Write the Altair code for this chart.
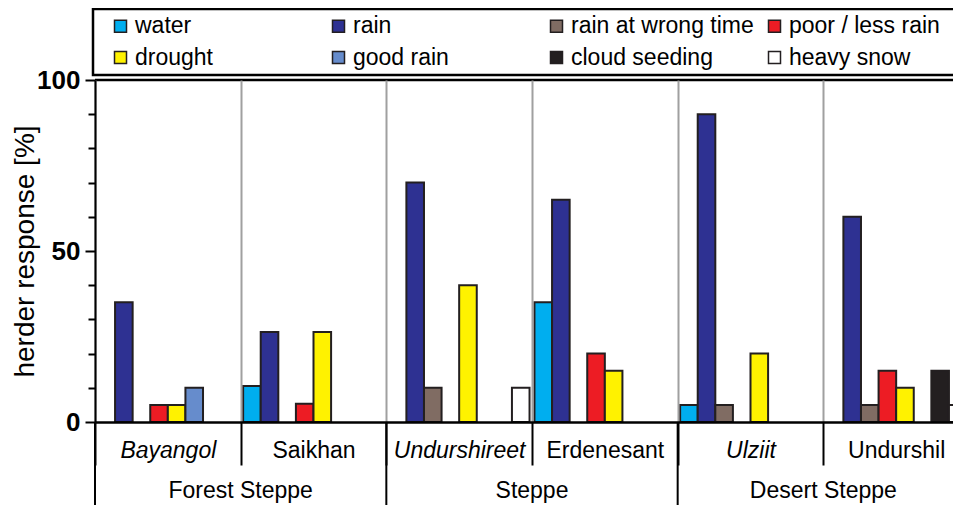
import altair as alt
import pandas as pd

# ---------------- data ----------------
sites = ["Bayangol", "Saikhan", "Undurshireet", "Erdenesant", "Ulziit", "Undurshil"]
italic_sites = ["Bayangol", "Undurshireet", "Ulziit"]
regions = ["Forest Steppe", "Steppe", "Desert Steppe"]
region_first_site = ["Bayangol", "Undurshireet", "Ulziit"]
region_mid_site = ["Saikhan", "Erdenesant", "Undurshil"]

categories = ["water", "rain", "rain at wrong time", "poor / less rain",
              "drought", "good rain", "cloud seeding", "heavy snow"]
colors = ["#00AEEF", "#2E3192", "#806C63", "#ED1C24",
          "#FFF200", "#668CCC", "#231F20", "#FFFFFF"]

# values per category, in site order (None = no bar)
water      = [None, 10.5, None, 35, 5, None]
rain       = [35, 26.3, 70, 65, 90, 60]
wrong_time = [None, None, 10, None, 5, 5]
poor       = [5, 5.3, None, 20, None, 15]
drought    = [5, 26.3, 40, 15, 20, 10]
good_rain  = [10, None, None, None, None, None]
cloud      = [None, None, None, None, None, 15]
snow       = [None, None, 10, None, None, 5]

series = [water, rain, wrong_time, poor, drought, good_rain, cloud, snow]

rows = []
for cat, vals in zip(categories, series):
    for s, v in zip(sites, vals):
        if v is not None:
            rows.append({"site": s, "category": cat, "value": v})
df = pd.DataFrame(rows)

df_region_start = pd.DataFrame({"site": region_first_site})
df_region_mid = pd.DataFrame({"site": region_mid_site, "region": regions})

# legend is filled column by column: interleave the two legend rows
legend_order = [c for pair in zip(categories[:4], categories[4:]) for c in pair]
legend_colors = [colors[categories.index(c)] for c in legend_order]

# ---------------- layout ----------------
W = 858          # visible plot width (reference is cropped on the right)
FULL_W = 874     # width the six site groups would need
H = 342
FONT = "Liberation Sans"

xscale = alt.Scale(domain=sites, range=[0, FULL_W], paddingInner=0, paddingOuter=0)
italic_test = "indexof(['Bayangol','Undurshireet','Ulziit'], datum.value) >= 0"

x_axis = alt.Axis(
    title=None, labelAngle=0, labelFont=FONT, labelFontSize=23, labelColor="black",
    labelPadding=-26, labelBaseline="top", labelOverlap=False,
    labelFontStyle={"condition": {"test": italic_test, "value": "italic"}, "value": "normal"},
    domain=True, domainColor="black", domainWidth=2.5,
    ticks=True, tickBand="extent", tickSize=43, tickWidth=2, tickColor="black",
    grid=True, gridColor="#A0A0A0", gridWidth=2, zindex=1,
)

def xenc(**kw):
    return alt.X("site:N", scale=xscale, sort=sites, axis=x_axis, **kw)

y_axis = alt.Axis(
    values=list(range(0, 101, 10)),
    labelExpr="datum.value % 50 == 0 ? datum.label : ''",
    tickSize={"condition": {"test": "datum.value % 50 == 0", "value": 10}, "value": 7},
    tickWidth=2, tickColor="black", domainColor="black", domainWidth=2,
    labelFont=FONT, labelFontWeight="bold", labelFontSize=26, labelColor="black",
    labelPadding=5, grid=False, zindex=1,
    title="herder response [%]", titleFont=FONT, titleFontSize=28,
    titleFontWeight="normal", titleColor="black", titlePadding=-3,
)

bars = alt.Chart(df).mark_bar(stroke="#231F20", strokeWidth=2).encode(
    x=xenc(),
    xOffset=alt.XOffset("category:N", sort=categories,
                        scale=alt.Scale(domain=categories, paddingInner=0, paddingOuter=0.14)),
    y=alt.Y("value:Q", scale=alt.Scale(domain=[0, 100], nice=False), axis=y_axis),
    fill=alt.Fill("category:N",
                  scale=alt.Scale(domain=legend_order, range=legend_colors),
                  legend=alt.Legend(
                      title=None, orient="none", legendX=14, legendY=-65.5,
                      columns=4, gridAlign="all", columnPadding=9, rowPadding=7.5,
                      symbolType="square", symbolSize=144,
                      symbolStrokeColor="#231F20", symbolStrokeWidth=1.5,
                      labelFont=FONT, labelFontSize=23, labelColor="black",
                      labelOffset=3, padding=0, labelLimit=400)),
)

top_border = alt.Chart(pd.DataFrame({"k": [0]})).mark_rule(
    color="black", strokeWidth=2.5).encode(y=alt.value(0))

region_lines = alt.Chart(df_region_start).mark_rule(color="black", strokeWidth=2).encode(
    x=xenc(bandPosition=0), y=alt.value(H), y2=alt.value(H + 90))

region_text = alt.Chart(df_region_mid).mark_text(
    font=FONT, fontSize=23, color="black", align="center", baseline="middle").encode(
    x=xenc(bandPosition=0), y=alt.value(411), text="region:N")

legend_frame = alt.Chart(pd.DataFrame({"k": [0]})).mark_rect(
    fillOpacity=0, stroke="black", strokeWidth=2.5).encode(
    x=alt.value(-2), x2=alt.value(920), y=alt.value(-71), y2=alt.value(-5))

chart = alt.layer(bars, top_border, region_lines, region_text, legend_frame).properties(
    width=W, height=H,
    autosize=alt.AutoSizeParams(type="none"),
    padding={"left": 87, "top": 72, "right": 0, "bottom": 83},
    background="white",
).configure_view(stroke=None)

chart.save("out.html", embed_options={"renderer": "svg", "actions": False})
